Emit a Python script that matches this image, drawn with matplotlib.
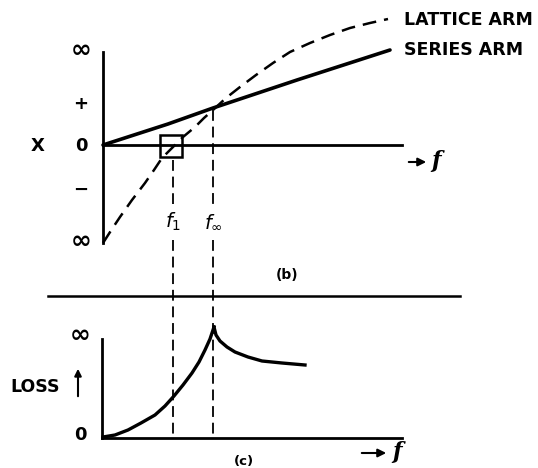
import matplotlib
matplotlib.use("Agg")
import matplotlib.pyplot as plt

# ---- data (pixel-space schematic coordinates) ----
# top panel (b): reactance X vs f
series_x = [103, 168, 213, 297, 390]
series_y = [145, 124, 108, 80, 50]
lattice_x = [103, 112, 120, 132, 145, 154, 162, 173, 183, 195, 204, 213, 226, 240, 256, 273, 290, 310, 330, 350, 370, 388]
lattice_y = [243, 229, 217, 200, 183, 170, 158, 147, 137, 127, 118, 110, 98, 87, 75, 63, 52, 43, 35, 28, 23, 19]
f1_x = 173
finf_x = 213
# bottom panel (c): loss vs f
loss_rise_x = [103, 115, 128, 141, 155, 165, 174, 183, 192, 199, 205, 210, 214]
loss_rise_y = [437, 435, 430, 423, 415, 406, 396, 385, 373, 362, 350, 339, 327]
loss_fall_x = [214, 216, 220, 227, 235, 248, 262, 282, 305]
loss_fall_y = [327, 335, 341, 347, 352, 357, 361, 363, 365]

top_ticks = ["∞", "+", "0", "−", "∞"]
top_tick_y = [50, 104, 146, 190, 241]

fig = plt.figure(figsize=(5.38, 4.68), dpi=100)
ax = fig.add_axes([0, 0, 1, 1])
ax.set_xlim(0, 538)
ax.set_ylim(468, 0)
ax.axis("off")

k = "black"
fs = 12.5

# ---- top panel axes ----
ax.plot([103, 103], [52, 243], color=k, lw=2)
ax.plot([103, 402], [145, 145], color=k, lw=2)
for lab, yy in zip(top_ticks, top_tick_y):
    size = 18 if lab == "∞" else 13
    ax.text(81, yy, lab, ha="center", va="center", fontsize=size, fontweight="bold", color=k)
ax.text(38, 146, "X", ha="center", va="center", fontsize=13, fontweight="bold")
ax.annotate("", xy=(429, 162), xytext=(406, 162),
            arrowprops=dict(arrowstyle="-|>", color=k, lw=1.5, mutation_scale=12))
ax.text(436, 161, "f", ha="center", va="center", fontsize=16, fontweight="bold",
        style="italic", family="DejaVu Serif")

# curves
ax.plot(series_x, series_y, color=k, lw=2.6, solid_capstyle="round", solid_joinstyle="round")
ax.plot(lattice_x, lattice_y, color=k, lw=1.8, dashes=(5.5, 3.2))
ax.text(404, 20, "LATTICE ARM", ha="left", va="center", fontsize=fs, fontweight="bold")
ax.text(404, 50, "SERIES ARM", ha="left", va="center", fontsize=fs, fontweight="bold")

# small square at f1
ax.add_patch(plt.Rectangle((160, 135), 22, 22, fill=False, lw=1.8, ec=k))

# vertical dashed guide lines
dash_v = (6.0, 3.2)
ax.plot([f1_x, f1_x], [160, 204], color=k, lw=1.3, dashes=dash_v)
ax.plot([f1_x, f1_x], [240, 438], color=k, lw=1.3, dashes=dash_v)
ax.plot([finf_x, finf_x], [110, 204], color=k, lw=1.3, dashes=dash_v)
ax.plot([finf_x, finf_x], [240, 438], color=k, lw=1.3, dashes=dash_v)
ax.text(f1_x, 222, "$f_1$", ha="center", va="center", fontsize=14)
ax.text(finf_x, 222, r"$f_\infty$", ha="center", va="center", fontsize=14)

ax.text(287, 275, "(b)", ha="center", va="center", fontsize=10, fontweight="bold")
ax.plot([48, 460], [296, 296], color=k, lw=1.8)

# ---- bottom panel ----
ax.plot([102, 102], [339, 438], color=k, lw=2)
ax.plot([102, 402], [438, 438], color=k, lw=2)
ax.text(80, 335, "∞", ha="center", va="center", fontsize=18, fontweight="bold")
ax.text(80, 435, "0", ha="center", va="center", fontsize=13, fontweight="bold")
ax.text(35, 387, "LOSS", ha="center", va="center", fontsize=fs, fontweight="bold")
ax.annotate("", xy=(78, 366), xytext=(78, 399),
            arrowprops=dict(arrowstyle="-|>", color=k, lw=1.5, mutation_scale=10))
ax.annotate("", xy=(389, 453), xytext=(359, 453),
            arrowprops=dict(arrowstyle="-|>", color=k, lw=1.5, mutation_scale=12))
ax.text(397, 452, "f", ha="center", va="center", fontsize=16, fontweight="bold",
        style="italic", family="DejaVu Serif")
ax.text(244, 461, "(c)", ha="center", va="center", fontsize=9.5, fontweight="bold")

ax.plot(loss_rise_x, loss_rise_y, color=k, lw=2.4, solid_joinstyle="round")
ax.plot(loss_fall_x, loss_fall_y, color=k, lw=2.4, solid_joinstyle="round")

fig.savefig("out.png", dpi=100)
